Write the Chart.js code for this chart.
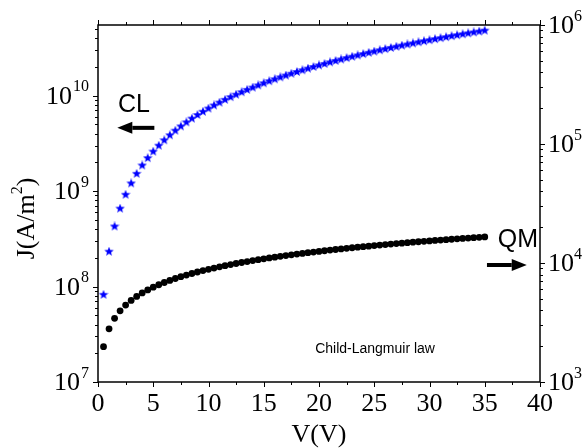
<!DOCTYPE html>
<html>
<head>
<meta charset="utf-8">
<script src="https://cdn.jsdelivr.net/npm/chart.js@4.4.0/dist/chart.umd.min.js"></script>
<style>
  html, body { margin: 0; padding: 0; background: #fff; }
  #wrap { width: 583px; height: 448px; }
</style>
</head>
<body>
<div id="wrap"><canvas id="chart"></canvas></div>
<script>
// V(V) sampling of both curves
const voltages = [
  0.5, 1, 1.5, 2, 2.5, 3, 3.5, 4, 4.5, 5, 5.5, 6, 6.5, 7, 7.5, 8, 8.5, 9, 9.5, 10,
  10.5, 11, 11.5, 12, 12.5, 13, 13.5, 14, 14.5, 15, 15.5, 16, 16.5, 17, 17.5, 18, 18.5, 19, 19.5, 20,
  20.5, 21, 21.5, 22, 22.5, 23, 23.5, 24, 24.5, 25, 25.5, 26, 26.5, 27, 27.5, 28, 28.5, 29, 29.5, 30,
  30.5, 31, 31.5, 32, 32.5, 33, 33.5, 34, 34.5, 35
];

// Child-Langmuir current density, left axis (A/m^2)
const clCurrent = [
  8.20e7, 2.32e8, 4.26e8, 6.56e8, 9.17e8, 1.205e9, 1.519e9, 1.856e9, 2.215e9, 2.594e9,
  2.993e9, 3.410e9, 3.844e9, 4.297e9, 4.765e9, 5.250e9, 5.749e9, 6.264e9, 6.793e9, 7.336e9,
  7.893e9, 8.463e9, 9.048e9, 9.644e9, 1.025e10, 1.087e10, 1.151e10, 1.215e10, 1.281e10, 1.348e10,
  1.416e10, 1.485e10, 1.555e10, 1.626e10, 1.698e10, 1.772e10, 1.846e10, 1.921e10, 1.998e10, 2.075e10,
  2.153e10, 2.233e10, 2.313e10, 2.394e10, 2.476e10, 2.559e10, 2.643e10, 2.728e10, 2.813e10, 2.900e10,
  2.987e10, 3.076e10, 3.165e10, 3.255e10, 3.346e10, 3.437e10, 3.530e10, 3.623e10, 3.717e10, 3.812e10,
  3.908e10, 4.004e10, 4.102e10, 4.200e10, 4.298e10, 4.398e10, 4.498e10, 4.599e10, 4.701e10, 4.804e10
];

// quantum (QM) current density, right axis
const qmCurrent = [
  1980, 2800, 3429, 3960, 4427, 4850, 5238, 5600, 5940, 6261,
  6567, 6859, 7139, 7408, 7668, 7920, 8163, 8400, 8630, 8854,
  9073, 9286, 9495, 9699, 9899, 10096, 10288, 10477, 10662, 10844,
  11024, 11200, 11374, 11545, 11713, 11879, 12043, 12205, 12365, 12522,
  12678, 12831, 12983, 13133, 13282, 13428, 13574, 13717, 13859, 14000,
  14139, 14277, 14414, 14549, 14683, 14816, 14948, 15079, 15208, 15336,
  15464, 15590, 15715, 15839, 15963, 16085, 16206, 16327, 16446, 16565
];

const xTickValues = [0, 5, 10, 15, 20, 25, 30, 35, 40];
const leftExponents = [7, 8, 9, 10];
const rightExponents = [3, 4, 5, 6];

const SERIF = '"Liberation Serif", "Times New Roman", serif';
const SANS = '"Liberation Sans", Arial, sans-serif';

// filled five point star used as the CL marker
function makeStar(size, color) {
  const c = document.createElement('canvas');
  c.width = size; c.height = size;
  const g = c.getContext('2d');
  const r = size / 2, ri = r * 0.42;
  g.beginPath();
  for (let i = 0; i < 10; i++) {
    const a = -Math.PI / 2 + i * Math.PI / 5;
    const rr = i % 2 === 0 ? r : ri;
    g.lineTo(r + rr * Math.cos(a), r + rr * Math.sin(a));
  }
  g.closePath();
  g.fillStyle = color;
  g.fill();
  return c;
}

function drawPower(ctx, x, y, exp, align) {
  ctx.font = '26px ' + SERIF;
  const wb = ctx.measureText('10').width;
  ctx.font = '16px ' + SERIF;
  const we = ctx.measureText(String(exp)).width;
  const x0 = align === 'right' ? x - wb - we - 1 : x;
  const gap = align === 'right' ? 1 : 0;
  ctx.textAlign = 'left';
  ctx.textBaseline = 'middle';
  ctx.font = '26px ' + SERIF;
  ctx.fillText('10', x0, y + 1.5);
  ctx.font = '16px ' + SERIF;
  ctx.fillText(String(exp), x0 + wb + gap, y - 8.5);
}

function arrow(ctx, x1, x2, y) {
  // x1 = tail, x2 = tip
  const dir = Math.sign(x2 - x1);
  const head = 15;
  ctx.fillStyle = '#000';
  ctx.fillRect(Math.min(x1, x2 - dir * head), y - 2, Math.abs(x2 - dir * head - x1), 4);
  ctx.beginPath();
  ctx.moveTo(x2, y);
  ctx.lineTo(x2 - dir * head, y - 6);
  ctx.lineTo(x2 - dir * head, y + 6);
  ctx.closePath();
  ctx.fill();
}

const framePlugin = {
  id: 'frame',
  afterDraw(chart) {
    const { ctx, chartArea: a, scales } = chart;
    const xs = scales.x, yl = scales.y, yr = scales.y2;
    ctx.save();
    ctx.strokeStyle = '#000';
    ctx.lineWidth = 1.5;
    ctx.strokeRect(a.left, a.top, a.right - a.left, a.bottom - a.top);

    // tick marks, all outward
    ctx.lineWidth = 1;
    ctx.beginPath();
    for (let v = xs.min; v <= xs.max + 1e-9; v += 2.5) {
      const px = Math.round(xs.getPixelForValue(v)) + 0.5;
      const len = v % 5 === 0 ? 5 : 3;
      ctx.moveTo(px, a.bottom); ctx.lineTo(px, a.bottom + len);
      ctx.moveTo(px, a.top); ctx.lineTo(px, a.top - len);
    }
    const logTicks = (scale, exps, x, dirX) => {
      for (const e of exps) {
        for (let m = 1; m <= 9; m++) {
          const v = m * Math.pow(10, e);
          if (v < scale.min * 0.999 || v > scale.max * 1.001) continue;
          const py = Math.round(scale.getPixelForValue(v)) + 0.5;
          const len = m === 1 ? 5 : 3;
          ctx.moveTo(x, py); ctx.lineTo(x + dirX * len, py);
        }
      }
    };
    logTicks(yl, leftExponents, a.left, -1);
    logTicks(yr, rightExponents, a.right, 1);
    ctx.stroke();

    // y tick labels with superscript exponents
    ctx.fillStyle = '#000';
    leftExponents.forEach(e => drawPower(ctx, a.left - 9, yl.getPixelForValue(Math.pow(10, e)), e, 'right'));
    rightExponents.forEach(e => drawPower(ctx, a.right + 8, yr.getPixelForValue(Math.pow(10, e)), e, 'left'));

    // left axis title J(A/m^2)
    ctx.save();
    ctx.translate(27, (a.top + a.bottom) / 2 + 15);
    ctx.rotate(-Math.PI / 2);
    ctx.textBaseline = 'middle';
    ctx.textAlign = 'left';
    ctx.font = '26px ' + SERIF;
    const w1 = ctx.measureText('J(A/m').width, w3 = ctx.measureText(')').width;
    ctx.font = '16px ' + SERIF;
    const w2 = ctx.measureText('2').width;
    let tx = -(w1 + w2 + w3) / 2;
    ctx.font = '26px ' + SERIF;
    ctx.fillText('J(A/m', tx, 0);
    ctx.font = '16px ' + SERIF;
    ctx.fillText('2', tx + w1, -9);
    ctx.font = '26px ' + SERIF;
    ctx.fillText(')', tx + w1 + w2, 0);
    ctx.restore();

    // annotations, placed in data coordinates
    ctx.fillStyle = '#000';
    ctx.textAlign = 'center';
    ctx.textBaseline = 'middle';
    ctx.font = '25px ' + SANS;
    ctx.fillText('CL', xs.getPixelForValue(3.25), yl.getPixelForValue(7.9e9));
    arrow(ctx, xs.getPixelForValue(5.1), xs.getPixelForValue(1.75), yl.getPixelForValue(4.6e9));
    ctx.fillText('QM', xs.getPixelForValue(38.0), yr.getPixelForValue(15600));
    arrow(ctx, xs.getPixelForValue(35.2), xs.getPixelForValue(38.8), yr.getPixelForValue(9620));
    ctx.textAlign = 'left';
    ctx.font = '14px ' + SANS;
    ctx.fillText('Child-Langmuir law', xs.getPixelForValue(19.65), yl.getPixelForValue(2.2e7));
    ctx.restore();
  }
};

const star = makeStar(10, '#0000ff');

new Chart(document.getElementById('chart'), {
  type: 'scatter',
  data: {
    datasets: [
      {
        label: 'CL',
        data: voltages.map((v, i) => ({ x: v, y: clCurrent[i] })),
        yAxisID: 'y',
        pointStyle: star,
        pointRadius: 5,
        showLine: false,
      },
      {
        label: 'QM',
        data: voltages.map((v, i) => ({ x: v, y: qmCurrent[i] })),
        yAxisID: 'y2',
        pointStyle: 'circle',
        pointRadius: 3.4,
        backgroundColor: '#000',
        borderWidth: 0,
        showLine: false,
      },
    ],
  },
  options: {
    responsive: true,
    maintainAspectRatio: false,
    animation: false,
    layout: { padding: { top: 25, left: 0, right: 0, bottom: 0 } },
    plugins: { legend: { display: false }, tooltip: { enabled: false } },
    scales: {
      x: {
        type: 'linear',
        position: 'bottom',
        min: 0,
        max: 40,
        afterBuildTicks: s => { s.ticks = xTickValues.map(v => ({ value: v })); },
        ticks: { color: '#000', font: { family: SERIF, size: 26 }, padding: 7, maxRotation: 0 },
        grid: { display: false, drawTicks: false },
        border: { display: false },
        title: { display: true, text: 'V(V)', color: '#000', font: { family: SERIF, size: 26, lineHeight: 1 }, padding: 0 },
        afterFit: s => { s.height = 66; },
      },
      y: {
        type: 'logarithmic',
        position: 'left',
        min: 1e7,
        max: 5.5e10,
        ticks: { display: false },
        grid: { display: false },
        border: { display: false },
        afterFit: s => { s.width = 98; },
      },
      y2: {
        type: 'logarithmic',
        position: 'right',
        min: 1e3,
        max: 1e6,
        ticks: { display: false },
        grid: { display: false },
        border: { display: false },
        afterFit: s => { s.width = 43; },
      },
    },
  },
  plugins: [framePlugin],
});
</script>
</body>
</html>
